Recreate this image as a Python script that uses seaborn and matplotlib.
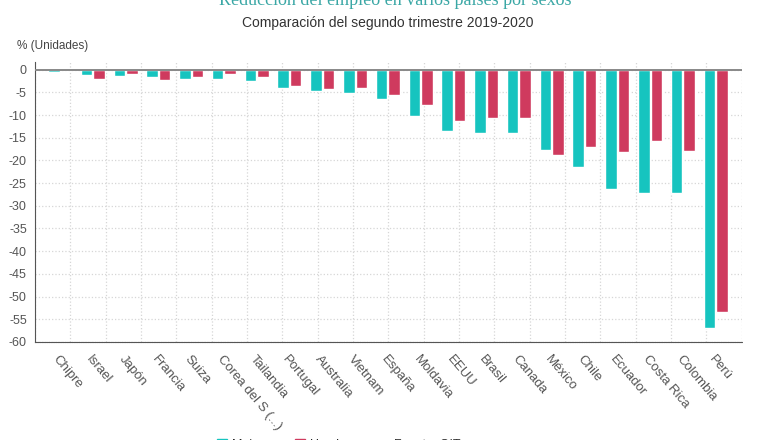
import numpy as np
import pandas as pd
import matplotlib.pyplot as plt
import seaborn as sns

paises = ['Chipre', 'Israel', 'Japón', 'Francia', 'Suiza', 'Corea del S (...)',
          'Tailandia', 'Portugal', 'Australia', 'Vietnam', 'España', 'Moldavia',
          'EEUU', 'Brasil', 'Canada', 'México', 'Chile', 'Ecuador', 'Costa Rica',
          'Colombia', 'Perú']
mujeres = [-0.5, -1.1, -1.3, -1.7, -2.1, -2.0, -2.4, -4.1, -4.6, -5.2, -6.5, -10.1,
           -13.4, -13.9, -14.0, -17.7, -21.5, -26.2, -27.1, -27.2, -57.0]
hombres = [0.2, -2.1, -1.0, -2.2, -1.7, -1.0, -1.5, -3.5, -4.3, -4.0, -5.6, -7.7,
           -11.4, -10.7, -10.7, -18.8, -17.0, -18.2, -15.6, -17.9, -53.5]
series = ['Mujeres', 'Hombres']
colores = ['#16c4bf', '#cf3a5e']

df = pd.DataFrame({
    'pais': paises * 2,
    'valor': mujeres + hombres,
    'sexo': [series[0]] * len(paises) + [series[1]] * len(paises),
})

sns.set_style('white')
plt.rcParams['font.family'] = ['Liberation Sans', 'DejaVu Sans']

fig = plt.figure(figsize=(7.8, 4.4), dpi=100)
ax = fig.add_axes([0.045, 0.223, 0.906, 0.636])

sns.barplot(data=df, x='pais', y='valor', hue='sexo', palette=colores,
            saturation=1, width=0.76, gap=0.08, ax=ax, legend=False)

ax.set_ylim(-60, 1.7)
ax.set_xlim(-0.76, 20.8)
ax.set_yticks(np.arange(-60, 1, 5))
ax.set_yticklabels([str(v) for v in np.arange(-60, 1, 5)])

# rejilla punteada
ax.set_xticks(np.linspace(-0.76, 20.8, 21), minor=True)
ax.grid(which='minor', axis='x', color='#d6d6d6', linestyle=':', linewidth=0.9)
ax.grid(which='major', axis='y', color='#d6d6d6', linestyle=':', linewidth=0.9)
ax.set_axisbelow(True)
ax.axhline(0, color='#888888', linewidth=1.4, zorder=3)

for s in ['top', 'right']:
    ax.spines[s].set_visible(False)
ax.spines['left'].set_color('#555555')
ax.spines['bottom'].set_color('#555555')
ax.spines['bottom'].set_linestyle((0, (1, 0.6)))

ax.tick_params(axis='y', which='major', length=4, color='#555555', labelsize=9,
               labelcolor='#555555', pad=2)
ax.tick_params(axis='x', which='major', length=4, color='#555555', labelsize=9.5,
               labelcolor='#555555', pad=4)
ax.tick_params(axis='x', which='minor', length=0)
ax.set_xticks(range(len(paises)))
ax.set_xticklabels(paises, rotation=-50, ha='left', rotation_mode='anchor')
ax.set_xlabel('')
ax.set_ylabel('')

fig.text(0.507, 0.998, 'Reducción del empleo en varios países por sexos',
         ha='center', va='center', fontsize=13, color='#3aa7a5',
         family=['Liberation Serif', 'DejaVu Serif'])
fig.text(0.497, 0.948, 'Comparación del segundo trimestre 2019-2020',
         ha='center', va='center', fontsize=10, color='#333333')
fig.text(0.022, 0.895, '% (Unidades)', ha='left', va='center', fontsize=8.5,
         color='#444444')

handles = [plt.Rectangle((0, 0), 1, 1, color=c) for c in colores]
fig.legend(handles, series, loc='center', bbox_to_anchor=(0.37, -0.012), ncol=2,
           frameon=False, fontsize=9, handlelength=0.8, handleheight=0.8,
           columnspacing=1.5, handletextpad=0.4)
fig.text(0.505, -0.012, 'Fuente: OIT', ha='left', va='center', fontsize=9,
         color='#333333')

fig.savefig('out.png', dpi=100)
